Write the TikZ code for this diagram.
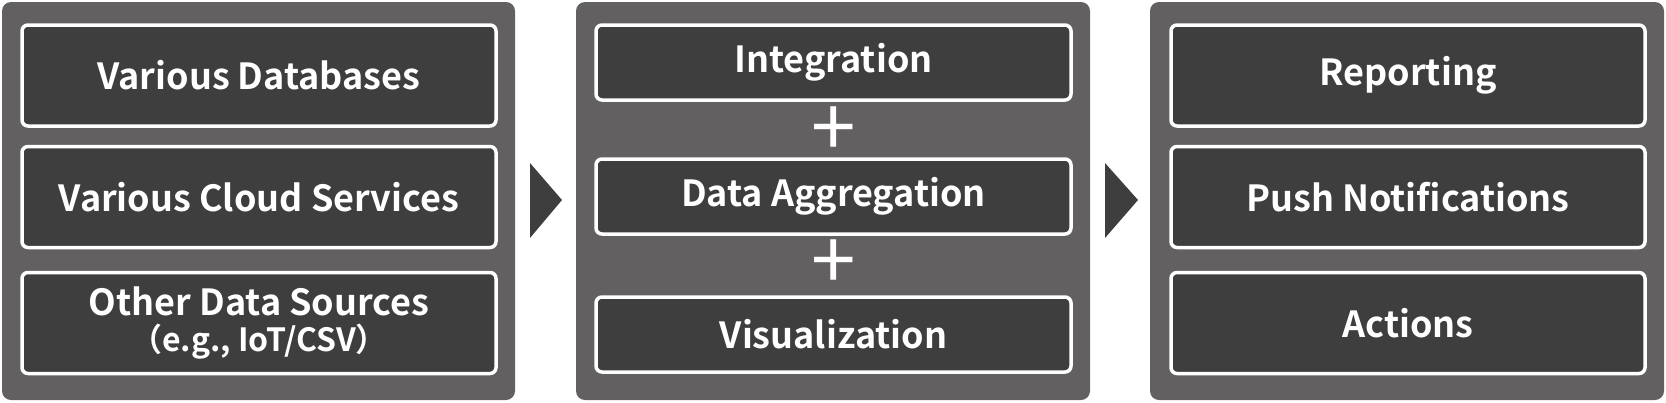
\documentclass[tikz,border=0pt]{standalone}
\usepackage{fontspec}
\setmainfont{Noto Sans CJK JP}[BoldFont={* Bold}]
\begin{document}
\begin{tikzpicture}[x=1pt,y=-1pt,
  panel/.style={fill=panelgray,rounded corners=9pt},
  ibox/.style={draw=white,line width=3.5pt,fill=boxgray,rounded corners=6pt,text=white,font=\fontsize{36}{42}\selectfont\bfseries,align=center},
  plus/.style={text=white,font=\fontsize{80}{80}\selectfont},
  tri/.style={fill=boxgray}]
\definecolor{panelgray}{HTML}{636061}
\definecolor{boxgray}{HTML}{3E3E3E}
\useasboundingbox (0,0) rectangle (1666,402);
\fill[panel] (2,2) rectangle (515,400);
\fill[panel] (576,2) rectangle (1090,400);
\fill[panel] (1150,2) rectangle (1664,400);
\node[ibox,minimum width=474pt,minimum height=101pt] (a1) at (259,75.5) {Various Databases};
\node[ibox,minimum width=474pt,minimum height=101pt] (a2) at (259,197) {Various Cloud Services};
\node[ibox,minimum width=474pt,minimum height=101pt] (a3) at (259,323) {Other Data Sources\\[-6pt]{\fontsize{32}{36}\selectfont（e.g., IoT/CSV）}};
\node[ibox,minimum width=475pt,minimum height=75pt] (b1) at (833.5,62.5) {Integration};
\node[plus] (p1) at (833.5,132) {+};
\node[ibox,minimum width=475pt,minimum height=75pt] (b2) at (833.5,196.5) {Data Aggregation};
\node[plus] (p2) at (833.5,265) {+};
\node[ibox,minimum width=475pt,minimum height=75pt] (b3) at (833.5,334.5) {Visualization};
\node[ibox,minimum width=474pt,minimum height=101pt] (c1) at (1408,75.5) {Reporting};
\node[ibox,minimum width=474pt,minimum height=101pt] (c2) at (1408,197) {Push Notifications};
\node[ibox,minimum width=474pt,minimum height=101pt] (c3) at (1408,323) {Actions};
\coordinate (t1) at (530,163);
\fill[tri] (t1) -- (562,200) -- (530,238) -- cycle;
\coordinate (t2) at (1105,163);
\fill[tri] (t2) -- (1138,200) -- (1105,238) -- cycle;
\end{tikzpicture}
\end{document}
